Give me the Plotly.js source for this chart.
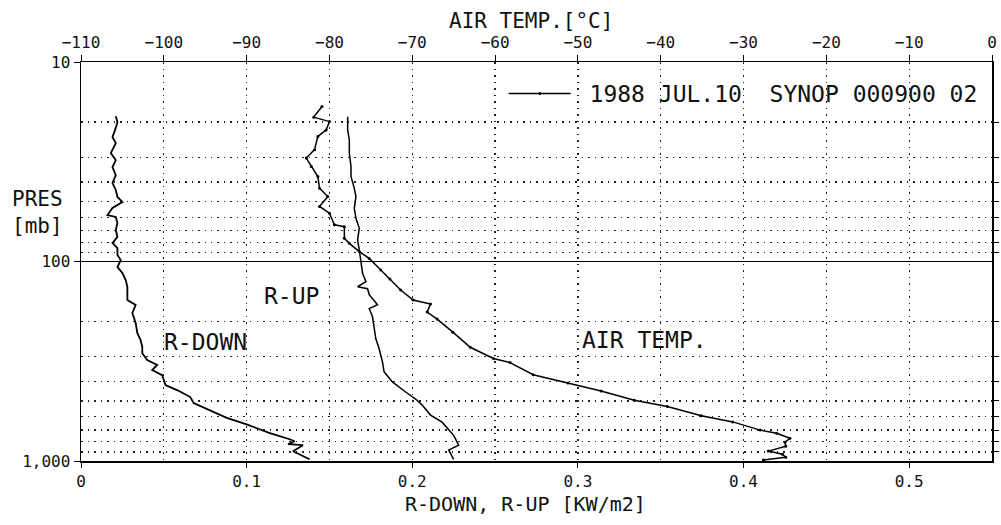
<!DOCTYPE html>
<html>
<head>
<meta charset="utf-8">
<script src="https://cdn.plot.ly/plotly-3.0.1.min.js"></script>
<style>html,body{margin:0;padding:0;background:#fff;}#chart{width:1001px;height:525px;}</style>
</head>
<body>
<div id="chart"></div>
<script>
// Downward radiation R-DOWN [kW/m2] vs pressure [mb]
const rdownPres = [18.7,20.0,21.4,23.8,25.5,28.6,31.0,33.6,36.9,40.4,43.8,47.5,50.3,53.9,58.5,59.8,64.1,69.5,75.4,80.8,85.6,92.8,98.3,106.6,114.2,123.8,134.2,143.9,156,165,181,203,228,248,268,288,312,330,350,371,416,441,478,512,560,608,655,725,778,796,823,833,893,980];
const rdownVal  = [0.021,0.022,0.021,0.019,0.021,0.018,0.021,0.019,0.021,0.019,0.021,0.022,0.025,0.019,0.016,0.021,0.022,0.021,0.022,0.019,0.022,0.022,0.024,0.022,0.025,0.027,0.028,0.028,0.028,0.033,0.031,0.033,0.034,0.036,0.037,0.037,0.040,0.046,0.043,0.049,0.051,0.058,0.066,0.068,0.078,0.088,0.100,0.114,0.126,0.129,0.125,0.134,0.128,0.138];

// Upward radiation R-UP [kW/m2] vs pressure [mb]
const rupPres = [18.8,21.9,24.6,28.7,33.4,37.5,43.0,47.3,54.1,60.7,68.2,78.0,87.5,98.2,114.6,126.3,133.8,136.9,146.7,164.8,172.4,189.3,217.5,244.1,273.9,318.2,357.2,401.3,451,489,524.5,588.7,639,693,743.4,834,882.7,980.6];
const rupVal  = [0.161,0.161,0.162,0.162,0.163,0.163,0.165,0.166,0.165,0.166,0.168,0.167,0.168,0.169,0.170,0.172,0.167,0.173,0.174,0.179,0.174,0.176,0.177,0.178,0.180,0.182,0.183,0.188,0.196,0.202,0.206,0.211,0.218,0.222,0.225,0.228,0.222,0.225];

// Air temperature [°C] vs pressure [mb]
const tempPres = [16.7,18.9,19.9,21.9,23.6,27.5,30.3,33.4,37.5,42.9,47.2,53.0,57.3,65.5,66.9,76.5,81.1,89.2,96.5,110.4,122.3,139,156,163.5,179.3,194.4,226.1,269.2,306.3,321.2,369.3,406,446.3,496.3,533.3,592.9,636.8,700,725.5,769.5,805,843,892,924.6,957,989.7];
const tempVal  = [-80.9,-81.9,-80.0,-80.4,-81.4,-81.8,-82.8,-82.2,-81.4,-81.2,-80.2,-81.2,-80.0,-79.4,-78.2,-78.2,-77.6,-76.4,-75.2,-73.8,-72.7,-71.4,-69.9,-67.8,-68.2,-67.0,-65.1,-63.0,-60.2,-58.2,-55.4,-51.2,-47.2,-43.2,-39.2,-35.1,-31.3,-28.0,-26.0,-24.4,-25.0,-24.9,-27.0,-25.3,-24.9,-27.6];

// Axis ticks
const presMajor = [10, 100, 1000];
const presMajorText = ['10', '100', '1,000'];
const presMinor = [20,30,40,50,60,70,80,90,200,300,400,500,600,700,800,900];
const radTicks = [0, 0.1, 0.2, 0.3, 0.4, 0.5];
const radTickText = ['0', '0.1', '0.2', '0.3', '0.4', '0.5'];
const tempTicks = [-110,-100,-90,-80,-70,-60,-50,-40,-30,-20,-10,0];

const legendText = '1988 JUL.10  SYNOP 000900 02';
const FONT = 'DejaVu Sans Mono, monospace';
const INK = '#111';
const DOTS = '1.5px,5px';

const traces = [
  {x: tempVal, y: tempPres, xaxis: 'x2', yaxis: 'y', type: 'scatter', mode: 'lines+markers',
   name: '\u00a0' + legendText, showlegend: true,
   line: {color: '#000', width: 1.5}, marker: {color: '#000', size: 3}},
  {x: rdownVal, y: rdownPres, xaxis: 'x', yaxis: 'y', type: 'scatter', mode: 'lines',
   showlegend: false, line: {color: '#000', width: 1.8}},
  {x: rupVal, y: rupPres, xaxis: 'x', yaxis: 'y2', type: 'scatter', mode: 'lines',
   showlegend: false, line: {color: '#000', width: 1.5}}
];

const yRange = [Math.log10(1000), Math.log10(10)];

const layout = {
  width: 1001, height: 525,
  margin: {l: 81, r: 9, t: 62, b: 64},
  paper_bgcolor: '#fff', plot_bgcolor: '#fff',
  font: {family: FONT, color: INK, size: 16},
  showlegend: true,
  legend: {x: 0.464, y: 0.975, xanchor: 'left', yanchor: 'top',
           bgcolor: 'rgba(0,0,0,0)', font: {size: 23, family: FONT, color: INK},
           itemwidth: 62},
  xaxis: {range: [0, 0.55], tickvals: radTicks, ticktext: radTickText,
          ticks: 'outside', ticklen: 5, tickcolor: '#000', showgrid: false, zeroline: false,
          showline: true, linecolor: '#000', linewidth: 1.5,
          tickfont: {size: 16}},
  xaxis2: {overlaying: 'x', side: 'top', range: [-110, 0], tickvals: tempTicks,
           ticks: 'outside', ticklen: 6, tickcolor: '#000',
           showgrid: true, griddash: DOTS, gridcolor: '#222', gridwidth: 1.3,
           zeroline: false, showline: true, linecolor: '#000', linewidth: 1.5,
           tickfont: {size: 16}},
  yaxis: {type: 'log', range: yRange, tickvals: presMajor, ticktext: presMajorText,
          ticks: 'outside', ticklen: 6, tickcolor: '#000',
          showgrid: true, gridcolor: '#000', gridwidth: 1.3,
          zeroline: false, showline: true, linecolor: '#000', linewidth: 1.5,
          tickfont: {size: 16}},
  yaxis2: {type: 'log', overlaying: 'y', side: 'right', range: yRange,
           tickvals: presMinor, ticktext: presMinor.map(() => ''),
           ticks: 'outside', ticklen: 5, tickcolor: '#000',
           showgrid: true, griddash: DOTS, gridcolor: '#222', gridwidth: 1.3,
           zeroline: false, showline: true, linecolor: '#000', linewidth: 1.5},
  annotations: [
    {text: 'AIR TEMP.[°C]', xref: 'paper', yref: 'paper', x: 0.494, y: 1.103,
     xanchor: 'center', yanchor: 'middle', showarrow: false,
     font: {size: 21, family: FONT, color: INK}},
    {text: 'R-DOWN, R-UP [KW/m2]', xref: 'paper', yref: 'paper', x: 0.488, y: -0.108,
     xanchor: 'center', yanchor: 'middle', showarrow: false,
     font: {size: 20, family: FONT, color: INK}},
    {text: 'R-UP', xref: 'x', yref: 'y', x: 0.127, y: Math.log10(149), showarrow: false,
     font: {size: 23, family: FONT, color: INK}},
    {text: 'R-DOWN', xref: 'x', yref: 'y', x: 0.075, y: Math.log10(253), showarrow: false,
     font: {size: 23, family: FONT, color: INK}},
    {text: 'AIR TEMP.', xref: 'x2', yref: 'y', x: -42.0, y: Math.log10(247), showarrow: false,
     font: {size: 23, family: FONT, color: INK}},
    {text: 'PRES<br>[mb]', xref: 'paper', yref: 'y', x: -0.048, xanchor: 'center',
     y: Math.log10(57), showarrow: false,
     align: 'center', font: {size: 21, family: FONT, color: INK}}
  ]
};

Plotly.newPlot('chart', traces, layout, {displayModeBar: false, staticPlot: true});
</script>
</body>
</html>
